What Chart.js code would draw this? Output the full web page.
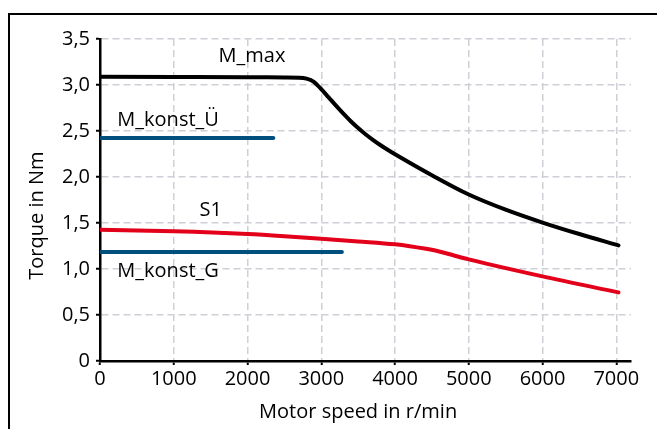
<!DOCTYPE html>
<html>
<head>
<meta charset="utf-8">
<script src="https://cdn.jsdelivr.net/npm/chart.js@4/dist/chart.umd.min.js"></script>
<style>
  html, body { margin: 0; padding: 0; background: #fff; }
  #wrap { position: relative; width: 657px; height: 429px; }
</style>
</head>
<body>
<div id="wrap"><canvas id="c" width="657" height="429"></canvas></div>
<script>
// ---- data ----
const xTickValues = [0, 1000, 2000, 3000, 4000, 5000, 6000, 7000];
const yTickValues = [0, 0.5, 1.0, 1.5, 2.0, 2.5, 3.0, 3.5];

const mMaxSpeed  = [0, 1000, 2000, 2500, 2700, 2800, 2900, 3000, 3100, 3200, 3300, 3400, 3500, 3600, 3700, 3800, 3900, 4000, 4500, 5000, 5500, 6000, 6500, 7030];
const mMaxTorque = [3.09, 3.087, 3.084, 3.082, 3.08, 3.07, 3.035, 2.955, 2.865, 2.775, 2.688, 2.606, 2.532, 2.465, 2.404, 2.348, 2.296, 2.248, 2.02, 1.81, 1.645, 1.505, 1.38, 1.257];

const s1Speed  = [0, 1000, 2000, 2500, 3000, 3500, 4000, 4200, 4400, 4600, 4800, 5000, 6000, 7030];
const s1Torque = [1.427, 1.41, 1.38, 1.357, 1.33, 1.30, 1.268, 1.248, 1.222, 1.19, 1.147, 1.105, 0.92, 0.746];

const kUSpeed  = [0, 2350];
const kUTorque = [2.424, 2.424];

const kGSpeed  = [0, 3280];
const kGTorque = [1.185, 1.185];

const curveLabels = ["M_max", "M_konst_Ü", "S1", "M_konst_G"];
const xTitle = "Motor speed in r/min";
const yTitle = "Torque in Nm";

const toPts = (xs, ys) => xs.map((x, i) => ({ x: x, y: ys[i] }));

const FONT = "'Open Sans', 'Noto Sans', sans-serif";

// frame, curve labels and axis titles
const labelPlugin = {
  id: 'labels',
  beforeDraw(chart) {
    const ctx = chart.ctx;
    ctx.save();
    ctx.fillStyle = '#fff';
    ctx.fillRect(0, 0, chart.width, chart.height);
    ctx.strokeStyle = '#000';
    ctx.lineWidth = 2;
    ctx.strokeRect(9, 14, 700, 500);
    ctx.restore();
  },
  afterDatasetsDraw(chart) {
    const ctx = chart.ctx;
    const xs = chart.scales.x, ys = chart.scales.y;
    const place = [
      { t: curveLabels[0], x: 2060, y: 3.31, a: 'center' },
      { t: curveLabels[1], x: 235,  y: 2.62, a: 'left' },
      { t: curveLabels[2], x: 1500, y: 1.64, a: 'center' },
      { t: curveLabels[3], x: 235,  y: 0.975, a: 'left' }
    ];
    ctx.save();
    ctx.fillStyle = '#000';
    ctx.font = '20px ' + FONT;
    ctx.textBaseline = 'middle';
    place.forEach(p => {
      ctx.textAlign = p.a;
      ctx.fillText(p.t, xs.getPixelForValue(p.x), ys.getPixelForValue(p.y));
    });
    // axis titles
    ctx.textAlign = 'center';
    ctx.fillText(xTitle, xs.getPixelForValue(3500), 412);
    ctx.translate(37, ys.getPixelForValue(1.58));
    ctx.rotate(-Math.PI / 2);
    ctx.fillText(yTitle, 0, 0);
    ctx.restore();
  }
};

new Chart(document.getElementById('c'), {
  type: 'line',
  data: {
    datasets: [
      { label: curveLabels[0], data: toPts(mMaxSpeed, mMaxTorque), borderColor: '#000000', borderWidth: 4, cubicInterpolationMode: 'monotone' },
      { label: curveLabels[2], data: toPts(s1Speed, s1Torque), borderColor: '#e2001a', borderWidth: 4, cubicInterpolationMode: 'monotone' },
      { label: curveLabels[1], data: toPts(kUSpeed, kUTorque), borderColor: '#004f7d', borderWidth: 4 },
      { label: curveLabels[3], data: toPts(kGSpeed, kGTorque), borderColor: '#004f7d', borderWidth: 4 }
    ]
  },
  options: {
    responsive: false,
    animation: false,
    devicePixelRatio: 1,
    layout: { padding: { top: 39, right: 26, left: 0, bottom: 0 } },
    elements: {
      point: { radius: 0 },
      line: { borderCapStyle: 'round', borderJoinStyle: 'round', fill: false }
    },
    plugins: { legend: { display: false }, tooltip: { enabled: false } },
    scales: {
      x: {
        type: 'linear', min: 0, max: 7200,
        afterBuildTicks: s => { s.ticks = xTickValues.map(v => ({ value: v })); },
        afterFit: s => { s.height = 68; },
        ticks: { color: '#000', font: { family: FONT, size: 20 }, padding: 2, maxRotation: 0, autoSkip: false,
                 callback: v => String(v) },
        grid: { color: '#cfcfd8', lineWidth: 1.5, drawTicks: true, tickLength: 4, tickColor: '#000', tickWidth: 2 },
        border: { color: '#000', width: 2.5, dash: [7, 4] },
        title: { display: false, text: xTitle }
      },
      y: {
        type: 'linear', min: 0, max: 3.5,
        afterBuildTicks: s => { s.ticks = yTickValues.map(v => ({ value: v })); },
        afterFit: s => { s.width = 100; },
        ticks: { color: '#000', font: { family: FONT, size: 20 }, padding: 6,
                 callback: v => v === 0 ? '0' : v.toFixed(1).replace('.', ',') },
        grid: { color: '#cfcfd8', lineWidth: 1.5, drawTicks: true, tickLength: 4, tickColor: '#000', tickWidth: 2 },
        border: { color: '#000', width: 2.5, dash: [7, 4] },
        title: { display: false, text: yTitle }
      }
    }
  },
  plugins: [labelPlugin]
});
</script>
</body>
</html>
